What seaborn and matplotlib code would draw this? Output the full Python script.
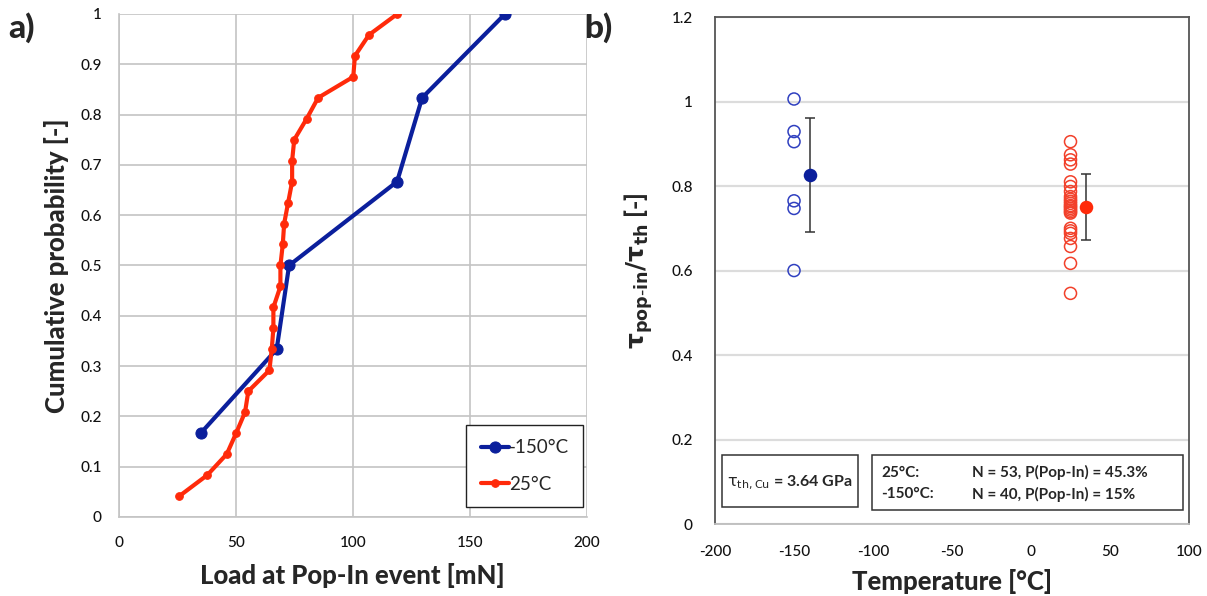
import numpy as np
import pandas as pd
import matplotlib
matplotlib.use("Agg")
import matplotlib.pyplot as plt
from matplotlib.patches import Rectangle
import seaborn as sns

# ---------------- data ----------------
# a) cumulative probability of pop-in load
load_25 = [26.0, 37.9, 46.2, 50.2, 54.0, 55.4, 64.4, 65.4, 66.1, 66.1, 69.1, 69.1,
           70.1, 70.7, 72.4, 74.1, 74.1, 75.0, 80.3, 85.2, 100.2, 100.9, 106.9, 119.0]
prob_25 = [k / 24 for k in range(1, 25)]
load_m150 = [35.1, 67.5, 72.8, 118.9, 129.6, 165.0]
prob_m150 = [k / 6 for k in range(1, 7)]
series_labels = ["-150°C", "25°C"]

# b) normalised pop-in shear stress
temp_m150 = -150
ratio_m150 = [1.007, 0.930, 0.906, 0.766, 0.748, 0.601]
temp_25 = 25
ratio_25 = [0.906, 0.875, 0.863, 0.853, 0.811, 0.800, 0.788, 0.776, 0.770, 0.765,
            0.760, 0.755, 0.752, 0.748, 0.744, 0.740, 0.737, 0.701, 0.695, 0.689,
            0.677, 0.658, 0.618, 0.547]
mean_temp = [-140, 35]
mean_ratio = [0.827, 0.752]
mean_err = [0.135, 0.078]

xticks_a = [0, 50, 100, 150, 200]
yticks_a = [0, 0.1, 0.2, 0.3, 0.4, 0.5, 0.6, 0.7, 0.8, 0.9, 1.0]
xticks_b = [-200, -150, -100, -50, 0, 50, 100]
yticks_b = [0, 0.2, 0.4, 0.6, 0.8, 1.0, 1.2]

# ---------------- style ----------------
sns.set_style("white")
plt.rcParams["font.family"] = ["Lato", "DejaVu Sans"]
plt.rcParams["axes.unicode_minus"] = False
plt.rcParams["mathtext.fontset"] = "custom"
plt.rcParams["mathtext.rm"] = "DejaVu Sans"
plt.rcParams["mathtext.it"] = "DejaVu Sans:italic"
plt.rcParams["mathtext.bf"] = "DejaVu Sans:bold"

BLUE = "#0b1f9c"
BLUE_OPEN = "#3040c0"
RED = "#ff2a0a"
RED_OPEN = "#f2402a"
GRID_A = "#c4c4c4"
GRID_B = "#dcdcdc"
LABEL_W = "black"

fig = plt.figure(figsize=(12.07, 5.96), dpi=100)

# ================= panel a =================
ax1 = fig.add_axes([0.0982, 0.1326, 0.3882, 0.8440])
df_m150 = pd.DataFrame({"load": load_m150, "prob": prob_m150})
df_25 = pd.DataFrame({"load": load_25, "prob": prob_25})
sns.lineplot(data=df_m150, x="load", y="prob", ax=ax1, sort=False, estimator=None,
             color=BLUE, lw=3, marker="o", markersize=8, markeredgecolor=BLUE,
             label=series_labels[0], zorder=3)
sns.lineplot(data=df_25, x="load", y="prob", ax=ax1, sort=False, estimator=None,
             color=RED, lw=3, marker="o", markersize=5.5, markeredgecolor=RED,
             label=series_labels[1], zorder=4)
ax1.set_xlim(0, 200)
ax1.set_ylim(0, 1)
ax1.set_xticks(xticks_a)
ax1.set_yticks(yticks_a)
ax1.set_yticklabels([f"{v:g}" for v in yticks_a])
ax1.grid(True, color=GRID_A, lw=1.2)
ax1.set_axisbelow(True)
for s in ["top", "right"]:
    ax1.spines[s].set_visible(False)
for s in ["left", "bottom"]:
    ax1.spines[s].set_color(GRID_A)
    ax1.spines[s].set_linewidth(1.2)
ax1.tick_params(axis="both", which="both", direction="out", length=4, width=1,
                color=GRID_A, labelsize=11, labelcolor="#111111", pad=8)
ax1.tick_params(axis="x", pad=10)
for lab in ax1.get_xticklabels() + ax1.get_yticklabels():
    lab.set_fontweight("medium")
ax1.set_xlabel("Load at Pop-In event [mN]", fontsize=18.5, fontweight=LABEL_W, labelpad=9)
ax1.set_ylabel("Cumulative probability [-]", fontsize=18.5, fontweight=LABEL_W, labelpad=8)
leg = ax1.legend(loc="lower right", bbox_to_anchor=(0.991, 0.02), frameon=True,
                 fancybox=False, framealpha=1, edgecolor="#222222", fontsize=13.5,
                 handlelength=1.5, handletextpad=0.0, labelspacing=1.05,
                 borderpad=0.75, borderaxespad=0)
leg.get_frame().set_linewidth(1.0)

fig.text(0.007, 0.953, "a)", fontsize=24, fontweight=LABEL_W, va="center", ha="left")
fig.text(0.484, 0.953, "b)", fontsize=24, fontweight=LABEL_W, va="center", ha="left")

# ================= panel b =================
ax2 = fig.add_axes([0.5924, 0.1200, 0.3927, 0.8507])
sns.scatterplot(x=[temp_m150] * len(ratio_m150), y=ratio_m150, ax=ax2, s=75,
                marker="o", color=BLUE_OPEN, facecolor="none", edgecolor=BLUE_OPEN,
                linewidth=1.1, zorder=3)
sns.scatterplot(x=[temp_25] * len(ratio_25), y=ratio_25, ax=ax2, s=75,
                marker="o", color=RED_OPEN, facecolor="none", edgecolor=RED_OPEN,
                linewidth=1.1, zorder=3)
ax2.errorbar(mean_temp, mean_ratio, yerr=mean_err, fmt="none", ecolor="#333333",
             elinewidth=1.1, capsize=3.5, capthick=1.1, zorder=4)
sns.scatterplot(x=[mean_temp[0]], y=[mean_ratio[0]], ax=ax2, s=95, color=BLUE,
                edgecolor=BLUE, linewidth=0, zorder=5)
sns.scatterplot(x=[mean_temp[1]], y=[mean_ratio[1]], ax=ax2, s=95, color=RED,
                edgecolor=RED, linewidth=0, zorder=5)
ax2.set_xlim(-200, 100)
ax2.set_ylim(0, 1.2)
ax2.set_xticks(xticks_b)
ax2.set_yticks(yticks_b)
ax2.set_yticklabels([f"{v:g}" for v in yticks_b])
ax2.yaxis.grid(True, color=GRID_B, lw=1.6)
ax2.xaxis.grid(False)
ax2.set_axisbelow(True)
for s in ["left", "top", "right"]:
    ax2.spines[s].set_color("#555555")
    ax2.spines[s].set_linewidth(1.3)
ax2.spines["bottom"].set_color("#bdbdbd")
ax2.spines["bottom"].set_linewidth(1.3)
ax2.tick_params(axis="x", direction="out", length=5, width=1, color="#bdbdbd",
                labelsize=11, labelcolor="#111111", pad=10)
ax2.tick_params(axis="y", direction="out", length=4, width=1, color="#bdbdbd",
                labelsize=11, labelcolor="#111111", pad=12)
for lab in ax2.get_xticklabels() + ax2.get_yticklabels():
    lab.set_fontweight("medium")
ax2.set_xlabel("Temperature [°C]", fontsize=18.5, fontweight=LABEL_W, labelpad=7)
ax2.set_ylabel(r"$\mathbf{\tau}_{\mathbf{pop\text{-}in}}\mathbf{/\tau}_{\mathbf{th}}$ [-]",
               fontsize=18, fontweight=LABEL_W, labelpad=12)

# info boxes
ax2.add_patch(Rectangle((0.014, 0.035), 0.288, 0.102, transform=ax2.transAxes,
                        fill=True, facecolor="white", edgecolor="#333333", lw=1.1, zorder=6))
ax2.text(0.158, 0.083, r"$\mathrm{\tau}_{\mathrm{th,Cu}}$ = 3.64 GPa", transform=ax2.transAxes,
         ha="center", va="center", fontsize=11.5, fontweight="bold", zorder=7)
ax2.add_patch(Rectangle((0.331, 0.029), 0.657, 0.108, transform=ax2.transAxes,
                        fill=True, facecolor="white", edgecolor="#333333", lw=1.1, zorder=6))
ax2.text(0.351, 0.102, "25°C:", transform=ax2.transAxes, ha="left", va="center",
         fontsize=11, fontweight="bold", zorder=7)
ax2.text(0.351, 0.060, "-150°C:", transform=ax2.transAxes, ha="left", va="center",
         fontsize=11, fontweight="bold", zorder=7)
ax2.text(0.542, 0.102, "N = 53, P(Pop-In) = 45.3%", transform=ax2.transAxes,
         ha="left", va="center", fontsize=11, fontweight="bold", zorder=7)
ax2.text(0.542, 0.060, "N = 40, P(Pop-In) = 15%", transform=ax2.transAxes,
         ha="left", va="center", fontsize=11, fontweight="bold", zorder=7)

fig.savefig("out.png", dpi=100)
